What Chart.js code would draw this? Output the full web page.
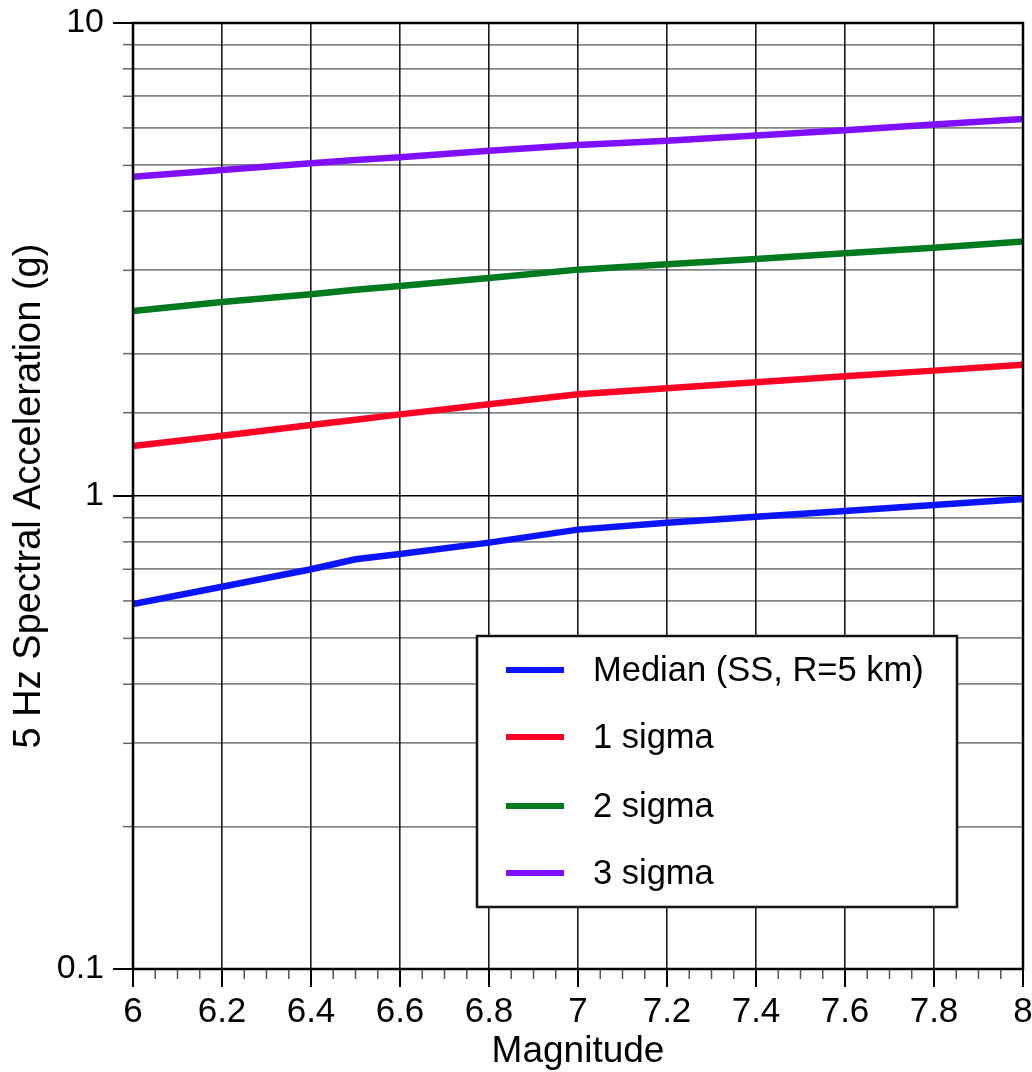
<!DOCTYPE html>
<html><head><meta charset="utf-8">
<script src="https://cdn.jsdelivr.net/npm/chart.js@4.4.0/dist/chart.umd.min.js"></script>
<style>html,body{margin:0;padding:0;background:#fff}#wrap{width:1032px;height:1072px}</style>
</head><body><div id="wrap"><canvas id="c" width="1032" height="1072"></canvas></div>
<script>
// ---- data ----
const magnitudes = [6.0, 6.2, 6.4, 6.5, 6.6, 6.8, 7.0, 7.2, 7.4, 7.6, 7.8, 8.0];
const median = [0.591, 0.643, 0.700, 0.735, 0.754, 0.797, 0.849, 0.878, 0.904, 0.930, 0.957, 0.986];
const sigma1 = [1.276, 1.341, 1.413, 1.450, 1.488, 1.563, 1.641, 1.690, 1.740, 1.791, 1.841, 1.895];
const sigma2 = [2.46, 2.57, 2.67, 2.73, 2.78, 2.89, 3.01, 3.09, 3.17, 3.26, 3.35, 3.45];
const sigma3 = [4.73, 4.89, 5.05, 5.13, 5.20, 5.37, 5.52, 5.64, 5.78, 5.93, 6.10, 6.27];
const seriesLabels = ['Median (SS, R=5 km)', '1 sigma', '2 sigma', '3 sigma'];
const seriesColors = ['#0a14ff', '#ff0024', '#007a1e', '#7f10ff'];
const yMajorLabels = ['0.1', '1', '10'];
const xTitle = 'Magnitude';
const yTitle = '5 Hz Spectral Acceleration (g)';

const FONT = '"Liberation Sans", Arial, Helvetica, sans-serif';

function isDecade(v) {
  const l = Math.log10(v);
  return Math.abs(l - Math.round(l)) < 1e-6;
}
function pts(arr) { return magnitudes.map((m, i) => ({x: m, y: arr[i]})); }

const decor = {
  id: 'decor',
  afterDraw(chart) {
    const {ctx, chartArea: a, scales: {x, y}} = chart;
    ctx.save();
    // y tick marks (outside)
    y.ticks.forEach(t => {
      const py = y.getPixelForValue(t.value);
      const maj = isDecade(t.value);
      ctx.strokeStyle = maj ? '#000' : '#666';
      ctx.lineWidth = maj ? 2 : 1.5;
      ctx.beginPath();
      ctx.moveTo(a.left - (maj ? 20 : 10), py);
      ctx.lineTo(a.left, py);
      ctx.stroke();
    });
    // x tick marks (major every 0.2, minor every 0.05)
    const n = Math.round((x.max - x.min) / 0.05);
    for (let i = 0; i <= n; i++) {
      const v = x.min + i * 0.05;
      const px = x.getPixelForValue(v);
      const maj = i % 4 === 0;
      ctx.strokeStyle = maj ? '#000' : '#555';
      ctx.lineWidth = maj ? 2 : 1.5;
      ctx.beginPath();
      ctx.moveTo(px, a.bottom);
      ctx.lineTo(px, a.bottom + (maj ? 18 : 10));
      ctx.stroke();
    }
    // frame
    ctx.strokeStyle = '#000';
    ctx.lineWidth = 2.5;
    ctx.strokeRect(a.left, a.top, a.right - a.left, a.bottom - a.top);

    // legend box
    const bx = 477, by = 636, bw = 480, bh = 271;
    ctx.fillStyle = '#fff';
    ctx.fillRect(bx, by, bw, bh);
    ctx.lineWidth = 2.5;
    ctx.strokeStyle = '#111';
    ctx.strokeRect(bx, by, bw, bh);
    const rows = [670, 737, 806, 873];
    ctx.font = '34.5px ' + FONT;
    ctx.textBaseline = 'middle';
    ctx.textAlign = 'left';
    chart.data.datasets.forEach((ds, i) => {
      const ry = rows[i];
      ctx.strokeStyle = ds.borderColor;
      ctx.lineWidth = 6;
      ctx.beginPath();
      ctx.moveTo(506, ry);
      ctx.lineTo(564, ry);
      ctx.stroke();
      ctx.fillStyle = '#000';
      ctx.fillText(ds.label, 593, ry + 1);
    });
    ctx.restore();
  }
};

new Chart(document.getElementById('c'), {
  type: 'line',
  data: {
    datasets: [median, sigma1, sigma2, sigma3].map((arr, i) => ({
      label: seriesLabels[i],
      data: pts(arr),
      borderColor: seriesColors[i],
      backgroundColor: seriesColors[i],
      borderWidth: 6.5,
      pointRadius: 0,
      tension: 0,
      fill: false
    }))
  },
  options: {
    responsive: false,
    animation: false,
    layout: {padding: {top: 23, right: 9, left: 0, bottom: 0}},
    plugins: {legend: {display: false}, tooltip: {enabled: false}},
    scales: {
      x: {
        type: 'linear',
        min: 6, max: 8,
        afterFit(s) { s.height = 103; s.paddingLeft = 0; s.paddingRight = 0; },
        ticks: {
          stepSize: 0.2,
          autoSkip: false,
          maxRotation: 0,
          padding: 22,
          color: '#000',
          font: {family: FONT, size: 35},
          callback: v => String(Number(v.toFixed(1)))
        },
        grid: {drawTicks: false, color: '#1a1a1a', lineWidth: 1.6},
        border: {display: false},
        title: {display: true, text: xTitle, color: '#000', font: {family: FONT, size: 37}, padding: {top: 0, bottom: -2}}
      },
      y: {
        type: 'logarithmic',
        min: 0.1, max: 10,
        afterFit(s) { s.width = 133; s.paddingTop = 0; s.paddingBottom = 0; },
        ticks: {
          autoSkip: false,
          padding: 29,
          color: '#000',
          font: {family: FONT, size: 34},
          callback: v => {
            if (!isDecade(v)) return '';
            const idx = Math.round(Math.log10(v)) + 1;
            return yMajorLabels[idx];
          }
        },
        grid: {
          drawTicks: false,
          color: c => (c.tick && isDecade(c.tick.value)) ? '#000' : 'rgba(0,0,0,0.48)',
          lineWidth: c => (c.tick && isDecade(c.tick.value)) ? 1.6 : 1.8
        },
        border: {display: false},
        title: {display: true, text: yTitle, color: '#000', font: {family: FONT, size: 38}, padding: {top: 7, bottom: 0}}
      }
    }
  },
  plugins: [decor]
});
</script>
</body></html>
